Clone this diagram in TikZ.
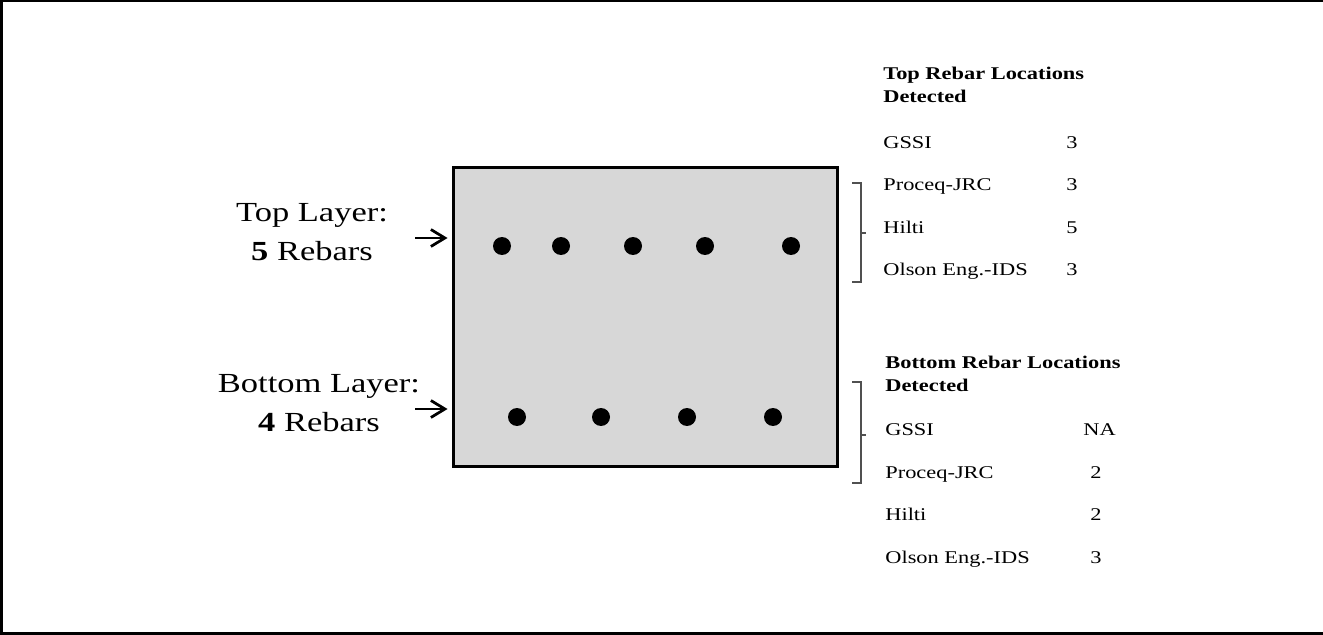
\documentclass[tikz,border=0pt]{standalone}
\usepackage{fontspec}
\setmainfont[FakeStretch=1.25]{Liberation Serif}
\usepackage{tikz}
\usetikzlibrary{arrows.meta}
\definecolor{slabgray}{HTML}{D7D7D7}
\definecolor{brkgray}{HTML}{505050}

\begin{document}
\begin{tikzpicture}[
  x=0.02cm, y=-0.02cm,
  slab/.style={draw, line width=0.06cm, fill=slabgray, minimum width=7.7cm,
               minimum height=6cm, inner sep=0pt},
  rebar/.style={circle, fill=black, minimum size=0.36cm, inner sep=0pt},
  layer/.style={align=center, font=\fontsize{15.7}{22}\selectfont},
  head/.style={anchor=west, align=left, inner sep=0pt,
               font=\fontsize{10.2}{13}\selectfont\bfseries},
  item/.style={anchor=west, inner sep=0pt, text height=1.5ex, text depth=0.25ex,
               font=\fontsize{10.2}{13}\selectfont},
  arr/.style={line width=0.055cm, -{Straight Barb[length=0.28cm, width=0.34cm]}},
  brk/.style={brkgray, line width=0.025cm},
]
\useasboundingbox (0,0) rectangle (1323,635);

% outer frame
\draw[line width=0.06cm] (1.5,0) -- (1.5,635);
\draw[line width=0.03cm] (0,0.8) -- (1323,0.8);
\draw[line width=0.06cm] (0,633.5) -- (1323,633.5);

% slab and rebars
\node[slab] (slab) at (645.5, 317) {};

\node[rebar] (t1) at (502, 246) {};
\node[rebar] (t2) at (561, 246) {};
\node[rebar] (t3) at (633, 246) {};
\node[rebar] (t4) at (705, 246) {};
\node[rebar] (t5) at (791, 246) {};

\node[rebar] (b1) at (517, 417) {};
\node[rebar] (b2) at (601, 417) {};
\node[rebar] (b3) at (687, 417) {};
\node[rebar] (b4) at (773, 417) {};

% layer labels
\node[layer] (topLbl) at (312, 232) {Top Layer:\\\textbf{5} Rebars};
\node[layer] (botLbl) at (319, 403) {Bottom Layer:\\\textbf{4} Rebars};

\coordinate (topArr) at (415, 238);
\coordinate (botArr) at (415, 409);
\draw[arr] (topArr) -- ([xshift=-0.08cm]topArr -| slab.west);
\draw[arr] (botArr) -- ([xshift=-0.08cm]botArr -| slab.west);

% top detection list
\node[head] (topHead) at (883, 84.5) {Top Rebar Locations\\Detected};
\node[item] (tGssi) at (883, 143) {GSSI};
\node[item] (tProc) at (883, 185) {Proceq-JRC};
\node[item] (tHilt) at (883, 228) {Hilti};
\node[item] (tOlsn) at (883, 270) {Olson Eng.-IDS};
\node[item] (tGssiV) at (1066, 143) {3};
\node[item] (tProcV) at (1066, 185) {3};
\node[item] (tHiltV) at (1066, 228) {5};
\node[item] (tOlsnV) at (1066, 270) {3};

\draw[brk] (852,183) -- (861,183) -- (861,282) -- (852,282);
\draw[brk] (861,233) -- (866,233);

% bottom detection list
\node[head] (botHead) at (885, 373.5) {Bottom Rebar Locations\\Detected};
\node[item] (bGssi) at (885, 430) {GSSI};
\node[item] (bProc) at (885, 473) {Proceq-JRC};
\node[item] (bHilt) at (885, 515) {Hilti};
\node[item] (bOlsn) at (885, 558) {Olson Eng.-IDS};
\node[item] (bGssiV) at (1083, 430) {NA};
\node[item] (bProcV) at (1090, 473) {2};
\node[item] (bHiltV) at (1090, 515) {2};
\node[item] (bOlsnV) at (1090, 558) {3};

\draw[brk] (852,382) -- (861,382) -- (861,483) -- (852,483);
\draw[brk] (861,435) -- (866,435);

\end{tikzpicture}
\end{document}
